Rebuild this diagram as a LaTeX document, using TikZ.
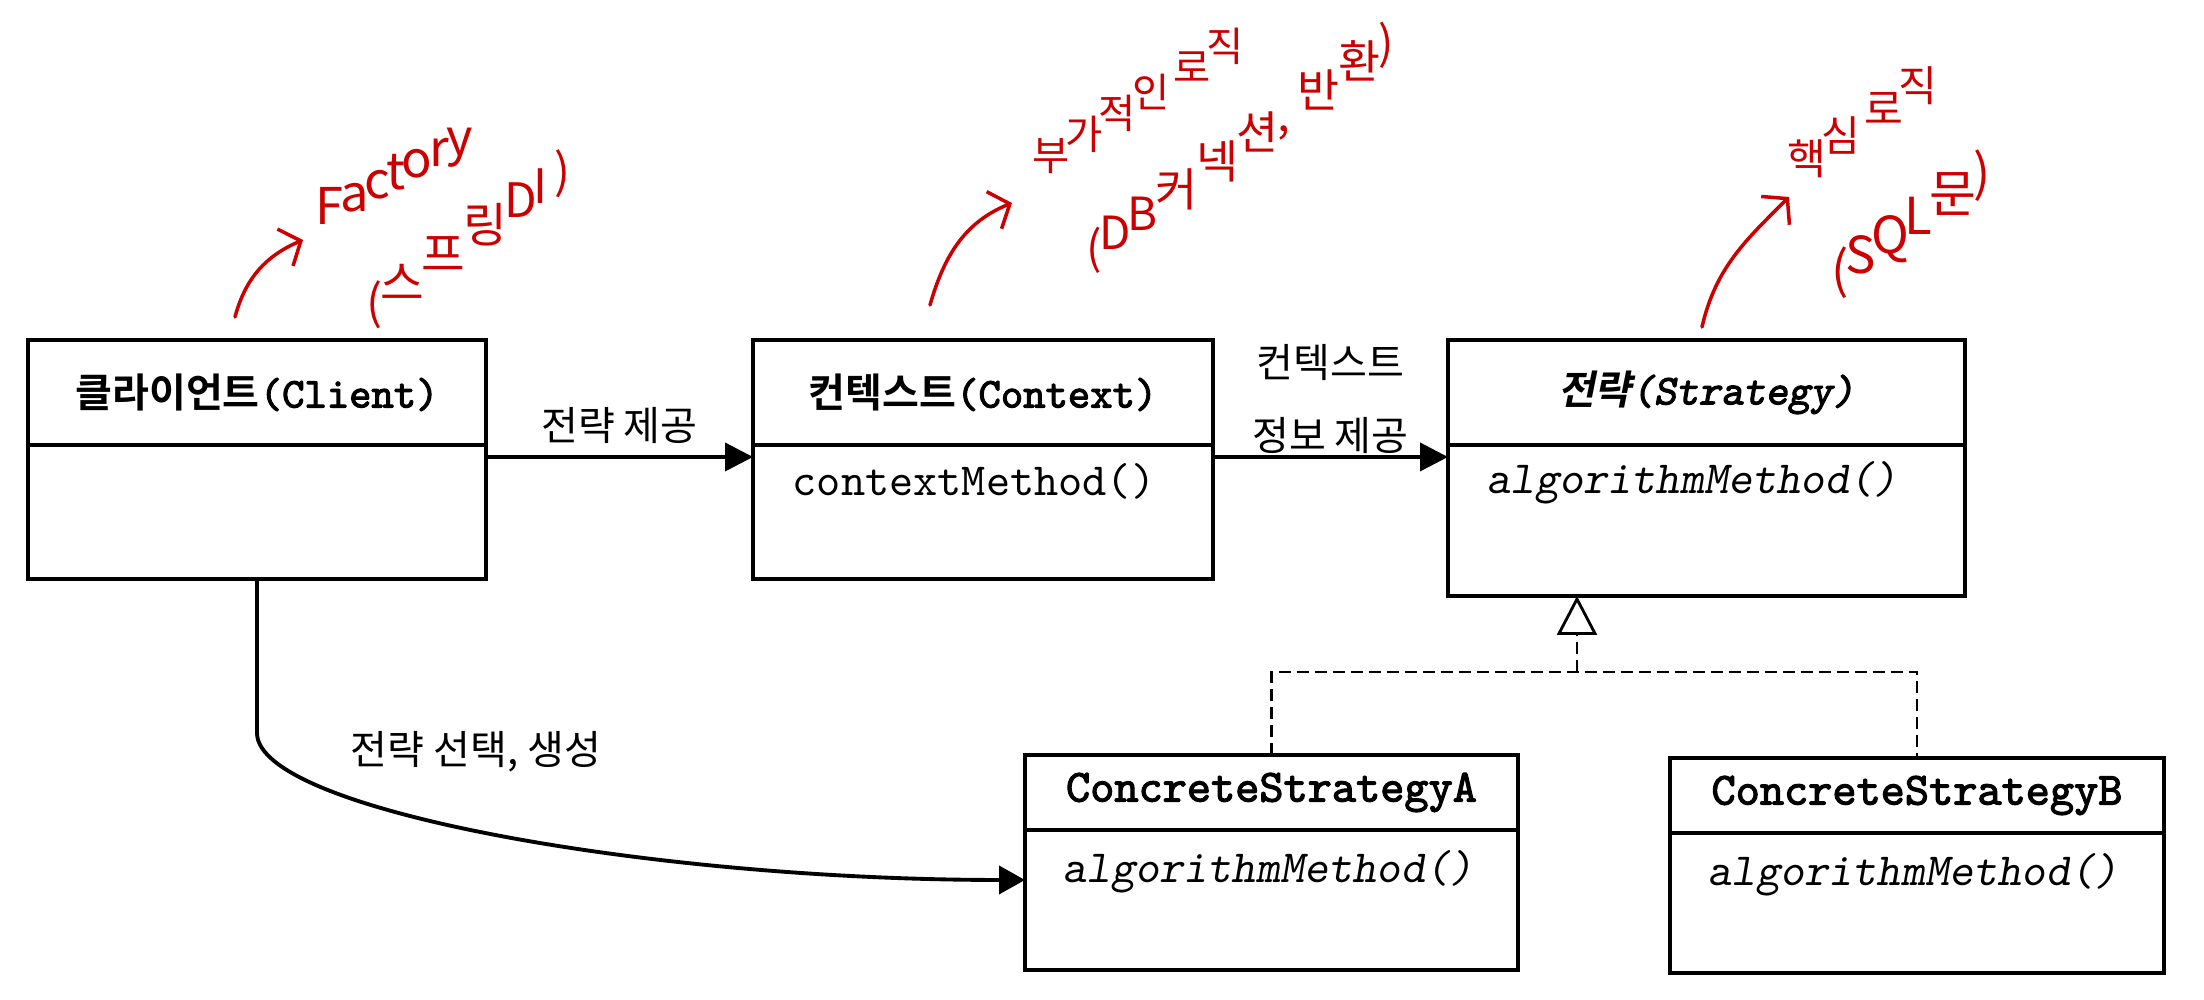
\documentclass[tikz,border=0pt]{standalone}
\usepackage{fontspec}
\setmainfont{Noto Sans CJK KR}[
  BoldFont={Noto Sans CJK KR Bold},
  ItalicFont={Noto Sans CJK KR},
  ItalicFeatures={FakeSlant=0.2},
  BoldItalicFont={Noto Sans CJK KR Bold},
  BoldItalicFeatures={FakeSlant=0.2}]
\setmonofont{lmmono10-regular}[
  Extension=.otf,
  BoldFont=lmmono10-regular,
  BoldFeatures={FakeBold=2.5},
  ItalicFont=lmmonoslant10-regular,
  SlantedFont=lmmonoslant10-regular,
  BoldItalicFont=lmmonoslant10-regular,
  BoldItalicFeatures={FakeBold=2.5},
  BoldSlantedFont=lmmonoslant10-regular,
  BoldSlantedFeatures={FakeBold=2.5}]
\usetikzlibrary{arrows.meta, positioning}
\definecolor{pen}{RGB}{204,0,0}
\newcommand\krtext{\fontsize{11.4pt}{14pt}\selectfont}
\newcommand\codetext{\fontsize{13.1pt}{15pt}\selectfont\ttfamily}
\newcommand\nametext{\fontsize{12.1pt}{14pt}\selectfont\ttfamily}

\begin{document}
\begin{tikzpicture}[>=latex, line join=miter,
    head/.style={draw, line width=0.9pt, outer sep=0pt, minimum height=1.05cm, font=\krtext\bfseries},
    body/.style={draw, line width=0.9pt, outer sep=0pt, below=0pt of #1},
    member/.style={anchor=west, inner sep=0pt, font=\codetext},
    assoc/.style={-{Triangle[length=2.8mm, width=2.8mm]}, line width=1.1pt},
    realize/.style={line width=0.8pt, dash pattern=on 1.2mm off 0.6mm},
    note/.style={text=pen, inner sep=0pt, anchor=base},
    scribble/.style={draw=pen, line width=1pt, line cap=round, -{Straight Barb[length=1.7mm, width=4mm]}}]
	     \useasboundingbox (0,0) rectangle (22.04,10);
	     %
             \node[head, minimum width=4.58cm] (client) at (2.57,6.075) {클라이언트{\nametext(Client)}};
             \node[body=client, minimum width=4.58cm, minimum height=1.34cm] (client body) {};
             \node[head, minimum width=4.60cm] (context) at (9.83,6.075) {컨텍스트{\nametext(Context)}};
             \node[body=context, minimum width=4.60cm, minimum height=1.34cm] (context body) {};
             \node[head, minimum width=5.17cm, font=\krtext\bfseries\itshape] (strategy) at (17.065,6.075) {전략{\nametext\slshape(Strategy)}};
             \node[body=strategy, minimum width=5.17cm, minimum height=1.51cm] (strategy body) {};
             \node[head, minimum width=4.93cm, minimum height=0.75cm, font=\codetext\bfseries] (ca) at (12.715,2.075) {ConcreteStrategyA};
             \node[body=ca, minimum width=4.93cm, minimum height=1.40cm] (ca body) {};
             \node[head, minimum width=4.94cm, minimum height=0.75cm, font=\codetext\bfseries] (cb) at (19.17,2.045) {ConcreteStrategyB};
             \node[body=cb, minimum width=4.94cm, minimum height=1.40cm] (cb body) {};
             %
             \node[member] (ctx method) at ([shift={(0.39,-0.36)}]context body.north west) {contextMethod()};
             \node[member, font=\codetext\slshape] (str method) at ([shift={(0.38,-0.38)}]strategy body.north west) {algorithmMethod()};
             \node[member, font=\codetext\slshape] (ca method) at ([shift={(0.37,-0.42)}]ca body.north west) {algorithmMethod()};
             \node[member, font=\codetext\slshape] (cb method) at ([shift={(0.37,-0.42)}]cb body.north west) {algorithmMethod()};
             %
             \draw[assoc] ([yshift=-1.2mm]client body.north east) -- node[above, font=\krtext] (give) {전략 제공} ([yshift=-1.2mm]context body.north west);
             \draw[assoc] ([yshift=-1.2mm]context body.north east) -- node[above, inner sep=0.5pt, align=center, font=\fontsize{11.4pt}{20.7pt}\selectfont] (inform) {컨텍스트\\정보 제공} ([yshift=-1.2mm]strategy body.north west);
             \draw[assoc, -{Triangle[length=2.6mm, width=2.8mm]}] (client body.south) -- ++(0,-1.54) .. controls +(0,-0.77) and +(-3.75,0) .. ([yshift=2mm]ca body.west);
             \node[font=\krtext] (pick) at (4.76,2.48) {전략 선택, 생성};
             %
             \coordinate (tip) at ([xshift=1.29cm]strategy body.south west);
             \coordinate (fork) at ([yshift=-0.76cm]tip);
             \draw[realize] (ca.north) |- (fork) -| (cb.north);
             \draw[realize, -{Triangle[open, length=3.9mm, width=4mm]}] (fork) -- (tip);
             %
             % red notes, written letter by letter along a slope
             \coordinate (s1) at (2.35,6.83);
             \coordinate (e1) at (3.03,7.60);
             \coordinate (s2) at (9.30,6.95);
             \coordinate (e2) at (10.12,7.97);
             \coordinate (s3) at (17.02,6.73);
             \coordinate (e3) at (17.89,8.03);
             \draw[scribble] (s1) to[out=75, in=203] (e1);
             \draw[scribble] (s2) to[out=74, in=202] (e2);
             \draw[scribble] (s3) to[out=77, in=225] (e3);
             %
             \coordinate (factory line) at (3.94,8.10);
             \coordinate (spring line) at (4.685,7.46);
             \coordinate (extra line) at (11.38,8.84);
             \coordinate (db line) at (12.405,8.38);
             \coordinate (core line) at (18.625,8.62);
             \coordinate (sql line) at (19.11,7.60);
             \foreach \ch/\off [count=\i] in {F/-0.73, a/-0.45, c/-0.19, t/0.02, o/0.26, r/0.51, y/0.74}
               \node[note, font=\fontsize{14.4pt}{17pt}\selectfont] (factory-\i) at ([shift={(28:\off)}]factory line) {\ch};
             \foreach \ch/\off [count=\i] in {{(}/-1.147, 스/-0.808, 프/-0.302, 링/0.204, D/0.634, I/0.879, {)}/1.147}
               \node[note, font=\fontsize{13.5pt}{16pt}\selectfont] (spring-\i) at ([shift={(35:\off)}]spring line) {\ch};
             \foreach \ch/\off [count=\i] in {부/-1.029, 가/-0.635, 적/-0.241, 인/0.153, 로/0.635, 직/1.029}
               \node[note, font=\fontsize{11.5pt}{14pt}\selectfont] (extra-\i) at ([shift={(32:\off)}]extra line) {\ch};
             \foreach \ch/\off [count=\i] in {{(}/-1.784, D/-1.527, B/-1.194, 커/-0.783, 넥/-0.285, 션/0.213, {,}/0.527, 반/0.952, 환/1.450, {)}/1.784}
               \node[note, font=\fontsize{13pt}{16pt}\selectfont] (db-\i) at ([shift={(35:\off)}]db line) {\ch};
             \foreach \ch/\off [count=\i] in {핵/-0.664, 심/-0.252, 로/0.252, 직/0.664}
               \node[note, font=\fontsize{12pt}{14pt}\selectfont] (core-\i) at ([shift={(33:\off)}]core line) {\ch};
             \foreach \ch/\off [count=\i] in {{(}/-0.86, S/-0.607, Q/-0.247, L/0.091, 문/0.5, {)}/0.86}
               \node[note, font=\fontsize{14.5pt}{17pt}\selectfont] (sql-\i) at ([shift={(34:\off)}]sql line) {\ch};
\end{tikzpicture}
\end{document}
